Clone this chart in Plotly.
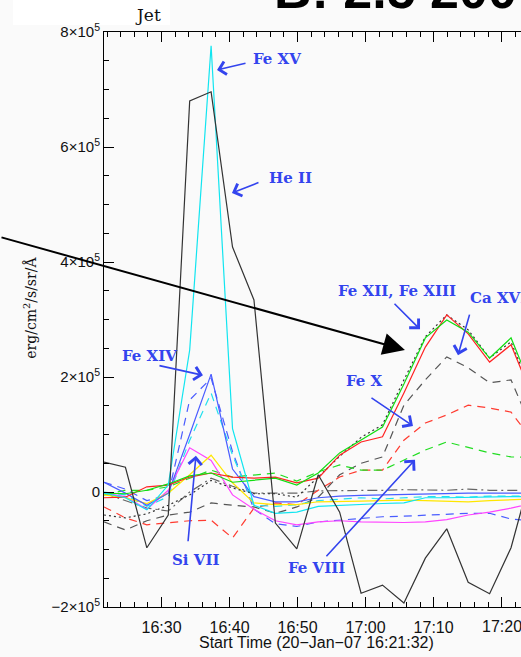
import plotly.graph_objects as go
from datetime import datetime, timedelta

# ---- data (values in units of 1e5 erg/cm^2/s/sr/A) ----
times = ["2007-01-20 16:21:32", "2007-01-20 16:24:41", "2007-01-20 16:27:50", "2007-01-20 16:30:59",
         "2007-01-20 16:34:08", "2007-01-20 16:37:17", "2007-01-20 16:40:26", "2007-01-20 16:43:35",
         "2007-01-20 16:46:44", "2007-01-20 16:49:53", "2007-01-20 16:53:02", "2007-01-20 16:56:11",
         "2007-01-20 16:59:20", "2007-01-20 17:02:29", "2007-01-20 17:05:38", "2007-01-20 17:08:47",
         "2007-01-20 17:11:56", "2007-01-20 17:15:05", "2007-01-20 17:18:14", "2007-01-20 17:21:23",
         "2007-01-20 17:24:32"]

he_ii = [0.52, 0.43, -0.97, -0.40, 6.80, 6.96, 4.26, 3.34, -0.54, -0.99, 0.30, -0.35, -1.76, -1.62,
         -1.93, -1.15, -0.64, -1.57, -1.77, -0.97, 0.40]
fe_xv = [-0.02, -0.10, -0.31, 0.12, 2.47, 7.76, 1.10, -0.23, -0.37, -0.35, -0.25, -0.23, -0.22, -0.20,
         -0.19, -0.10, -0.10, -0.09, -0.08, -0.08, -0.08]
fe_xv_b = [0.00, -0.05, -0.25, -0.08, 0.90, 1.72, 0.64, -0.23, -0.25, -0.22, -0.15, -0.12, -0.10, -0.12,
           -0.10, -0.08, -0.08, -0.09, -0.07, -0.07, -0.07]
fe_xiv = [0.17, -0.02, -0.23, -0.02, 1.00, 2.05, 0.40, -0.08, -0.17, -0.17, -0.10, -0.07, -0.06, -0.05,
          -0.04, -0.03, -0.02, -0.02, -0.02, -0.02, -0.02]
fe_xiv_b = [0.17, 0.05, -0.15, -0.05, 1.60, 1.98, 0.70, -0.30, -0.55, -0.60, -0.52, -0.49, -0.47, -0.43,
            -0.42, -0.40, -0.38, -0.37, -0.37, -0.47, -0.50]
si_vii = [-0.02, -0.08, -0.30, 0.03, 0.77, 0.55, -0.05, -0.30, -0.50, -0.57, -0.52, -0.50, -0.52, -0.53,
          -0.53, -0.52, -0.48, -0.40, -0.35, -0.28, -0.20]
yellow_line = [-0.05, -0.10, -0.20, -0.02, 0.30, 0.64, 0.16, -0.19, -0.22, -0.22, -0.17, -0.17, -0.16,
               -0.15, -0.14, -0.15, -0.16, -0.17, -0.15, -0.13, -0.12]
fe_xii = [-0.02, -0.03, 0.03, 0.14, 0.28, 0.33, 0.17, 0.21, 0.24, 0.12, 0.33, 0.68, 0.90, 1.13, 1.88,
          2.68, 2.99, 2.78, 2.33, 2.68, 1.77]
fe_xiii = [-0.10, -0.09, 0.09, 0.12, 0.26, 0.33, 0.26, 0.24, 0.26, 0.16, 0.24, 0.64, 0.87, 0.96, 1.72,
           2.52, 3.08, 2.75, 2.26, 2.56, 1.65]
fe_xii_b = [-0.40, -0.45, -0.38, -0.23, -0.05, 0.20, 0.07, -0.03, -0.03, -0.09, 0.26, 0.62, 0.95, 1.17,
            1.95, 2.70, 3.08, 2.82, 2.33, 2.61, 1.70]
ca_xvi = [-0.52, -0.66, -0.50, -0.40, -0.35, -0.19, -0.23, -0.26, -0.37, -0.26, -0.09, 0.30, 0.50, 0.61,
          1.51, 1.95, 2.35, 2.16, 1.90, 1.95, 1.08]
fe_x = [-0.26, -0.45, -0.57, -0.54, -0.50, -0.49, -0.80, -0.28, -0.19, -0.22, 0.03, 0.26, 0.38, 0.38,
        0.90, 1.20, 1.34, 1.51, 1.46, 1.39, 0.90]
fe_viii = [-0.05, 0.03, 0.03, 0.09, 0.24, 0.38, 0.26, 0.30, 0.33, 0.19, 0.35, 0.47, 0.38, 0.38, 0.56,
           0.73, 0.87, 0.77, 0.68, 0.61, 0.60]
grey_dashdot = [-0.02, -0.15, -0.28, -0.33, 0.00, 0.24, 0.10, -0.02, -0.02, -0.02, 0.02, 0.02, 0.03,
                0.03, 0.04, 0.03, 0.03, 0.05, 0.03, 0.03, 0.03]

ytick_vals = [-2e5, 0, 2e5, 4e5, 6e5, 8e5]
ytick_text = ["\u22122\u00d710<sup>5</sup>", "0", "2\u00d710<sup>5</sup>", "4\u00d710<sup>5</sup>",
              "6\u00d710<sup>5</sup>", "8\u00d710<sup>5</sup>"]
last_xtick = "2007-01-20 17:20:00"
last_xtick_text = "17:20"

series = [
    ("grey dash-dot", grey_dashdot, "#666666", "10px,4px,2px,4px"),
    ("Ca XVI", ca_xvi, "#555555", "8px,6px"),
    ("Fe X", fe_x, "#ff3b30", "8px,6px"),
    ("Fe VIII", fe_viii, "#22dd22", "8px,6px"),
    ("Fe XIV b", fe_xiv_b, "#4a5cff", "8px,6px"),
    ("Fe XV b", fe_xv_b, "#22e0ee", "8px,6px"),
    ("Si VII", si_vii, "#ff44ff", "solid"),
    ("yellow", yellow_line, "#ffe600", "solid"),
    ("Fe XIV", fe_xiv, "#4a5cff", "solid"),
    ("Fe XII dotted", fe_xii_b, "#333333", "2px,3px"),
    ("Fe XIII", fe_xiii, "#ff2222", "solid"),
    ("Fe XII", fe_xii, "#11dd11", "solid"),
    ("Fe XV", fe_xv, "#11e5f0", "solid"),
    ("He II", he_ii, "#333333", "solid"),
]

fig = go.Figure()
for name, vals, color, dash in series:
    fig.add_trace(go.Scatter(x=times, y=[v * 1e5 for v in vals], mode="lines", name=name,
                             line=dict(color=color, width=1.2, dash=dash), showlegend=False))

T0 = datetime(2007, 1, 20, 16, 21, 32)


def t(m):
    return (T0 + timedelta(minutes=m)).strftime("%Y-%m-%d %H:%M:%S")


blue = "#3344ee"
lab_font = dict(family="DejaVu Serif", size=15, color=blue)
labels = [
    ("Fe XV", 25.44, 7.53, "center"),
    ("He II", 27.35, 5.46, "center"),
    ("Fe XIV", 6.62, 2.37, "center"),
    ("Si VII", 13.53, -1.18, "center"),
    ("Fe VIII", 31.32, -1.32, "center"),
    ("Fe X", 38.38, 1.93, "center"),
    ("Fe XII, Fe XIII", 43.09, 3.50, "center"),
    ("Ca XVI", 53.53, 3.37, "left"),
]
for txt, m, v, xa in labels:
    fig.add_annotation(x=t(m), y=v * 1e5, text="<b>" + txt + "</b>", showarrow=False,
                       xanchor=xa, yanchor="middle", font=lab_font)

arrows = [
    (16.62, 7.34, 30, -7),
    (18.82, 5.20, 28, -11),
    (14.56, 2.03, -45, -10),
    (13.53, 0.63, -8, 87),
    (45.74, 0.56, -90, 98),
    (45.44, 1.15, -43, -29),
    (46.47, 2.83, -27, -27),
    (52.06, 2.38, 12, -42),
]
for m, v, ax, ay in arrows:
    fig.add_annotation(x=t(m), y=v * 1e5, ax=ax, ay=ay, text="", showarrow=True,
                       arrowhead=4, arrowsize=1.6, arrowwidth=1.6, arrowcolor=blue, standoff=0)

# big black arrow
fig.add_annotation(x=t(44.26), y=2.47e5, ax=-405, ay=-113, text="", showarrow=True,
                   arrowhead=2, arrowsize=2.2, arrowwidth=2, arrowcolor="#000000", standoff=0)

# white box behind "Jet"
fig.add_shape(type="rect", xref="paper", yref="paper", x0=-0.218, x1=0.158, y0=1.012, y1=1.06,
              fillcolor="white", line=dict(width=0), layer="below")
fig.add_annotation(xref="paper", yref="paper", x=0.105, y=1.03, text="Jet", showarrow=False,
                   xanchor="center", yanchor="middle",
                   font=dict(family="DejaVu Serif", size=17, color="#111"))
fig.add_annotation(xref="paper", yref="paper", x=0.403, y=1.019, text="<b>B: 2.5 200</b>",
                   showarrow=False, xanchor="left", yanchor="bottom",
                   font=dict(family="Liberation Sans", size=52, color="#000"))

# tick label at the clipped right end
fig.add_annotation(x=last_xtick, yref="paper", y=-0.0345, text=last_xtick_text, showarrow=False,
                   xanchor="center", yanchor="middle",
                   font=dict(family="Liberation Sans", size=16, color="#111"))

# axis titles
fig.add_annotation(xref="paper", yref="paper", x=0.51, y=-0.0626, text="Start Time (20\u2212Jan\u221207 16:21:32)",
                   showarrow=False, xanchor="center", yanchor="middle",
                   font=dict(family="Liberation Sans", size=16, color="#111"))
fig.add_annotation(xref="paper", yref="paper", x=-0.178, y=0.52, text="erg/cm<sup>2</sup>/s/sr/\u00c5",
                   showarrow=False, textangle=-90, xanchor="center", yanchor="middle",
                   font=dict(family="DejaVu Serif", size=14, color="#111"))

fig.update_layout(
    width=521, height=657,
    margin=dict(l=104, r=0, t=32, b=50),
    paper_bgcolor="#fafafa", plot_bgcolor="#fafafa",
    showlegend=False,
    xaxis=dict(type="date", range=["2007-01-20 16:21:32", "2007-01-20 17:22:51"],
               tickformat="%H:%M", tick0="2007-01-20 16:30:00", dtick=600000,
               ticks="inside", ticklen=10, tickwidth=1, tickcolor="#000",
               showline=True, linecolor="#000", linewidth=1, mirror="ticks",
               showgrid=False, zeroline=False, ticklabelstandoff=6,
               tickfont=dict(family="Liberation Sans", size=16, color="#111"),
               minor=dict(dtick=120000, tick0="2007-01-20 16:30:00", ticks="inside", ticklen=5,
                          tickcolor="#000", showgrid=False)),
    yaxis=dict(range=[-2e5, 8e5], tickmode="array", tickvals=ytick_vals, ticktext=ytick_text,
               ticks="inside", ticklen=10, tickwidth=1, tickcolor="#000",
               showline=True, linecolor="#000", linewidth=1, mirror=False,
               showgrid=False, zeroline=False,
               tickfont=dict(family="Liberation Sans", size=15, color="#111"),
               minor=dict(tickmode="array", tickvals=[i * 5e4 for i in range(-4, 17)], ticks="inside",
                          ticklen=5, tickcolor="#000", showgrid=False)),
)

fig.write_html("out.html", config={"displayModeBar": False},
               post_script="document.body.style.margin='0px';")
